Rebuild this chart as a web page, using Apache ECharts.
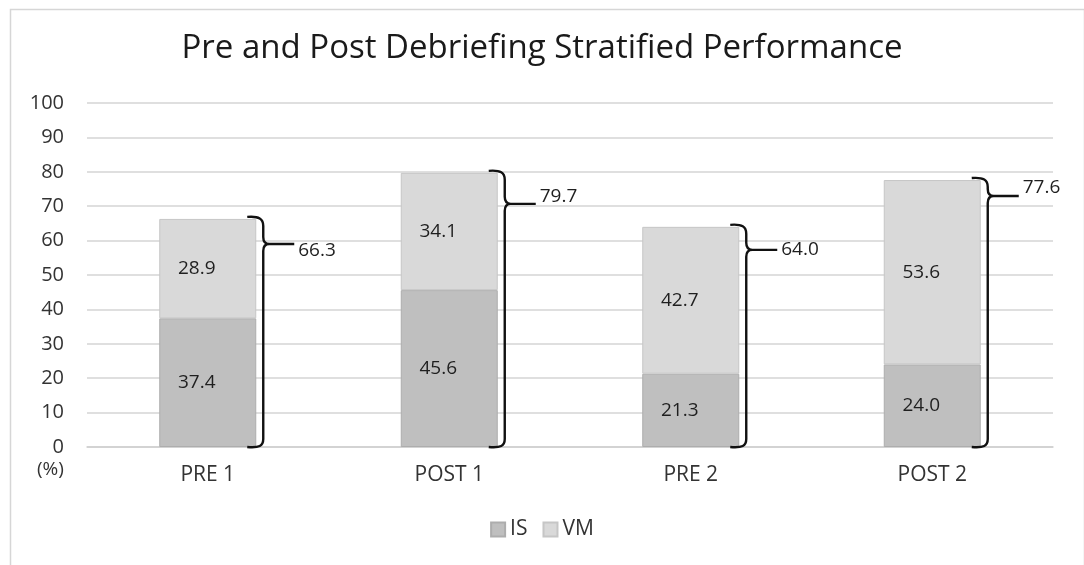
<!DOCTYPE html>
<html>
<head>
<meta charset="utf-8">
<title>Pre and Post Debriefing Stratified Performance</title>
<script src="https://cdn.jsdelivr.net/npm/echarts@6/dist/echarts.min.js"></script>
<style>
  html, body { margin: 0; padding: 0; background: #fff; }
  #chart { width: 1084px; height: 565px; }
</style>
</head>
<body>
<div id="chart"></div>
<script>
// Session labels along the x axis
const categories = ['PRE 1', 'POST 1', 'PRE 2', 'POST 2'];
// Stacked components (%)
const isValues = [37.4, 45.6, 21.3, 24.0];
const vmValues = [28.9, 34.1, 42.7, 53.6];
// Combined score shown beside each brace
const totals = [66.3, 79.7, 64.0, 77.6];
// Y axis ticks
const yTicks = [0, 10, 20, 30, 40, 50, 60, 70, 80, 90, 100];

const FONT = '"Open Sans", "Noto Sans", sans-serif';

// Brace shape tweaks per column: distance of the point below the brace top,
// and vertical shift of the total label relative to that point (px).
const braceTipDrop = [27, 33, 25, 18];
const braceLabelShift = [7, -7, 0, -8];

const BAR_WIDTH = 97;

function renderBrace(params, api) {
  const i = api.value(0);
  const total = api.value(1);
  const topPt = api.coord([i, total]);
  const botPt = api.coord([i, 0]);
  const xr = topPt[0] + BAR_WIDTH / 2;
  const yTop = topPt[1] - 2;
  const yBot = botPt[1];
  const yTip = yTop + braceTipDrop[i];
  const xv = xr + 7;
  const xt = xr + 13;
  const path =
    'M' + (xr - 9) + ',' + yTop +
    ' C' + (xr + 3) + ',' + (yTop - 1) + ' ' + xv + ',' + (yTop + 2) + ' ' + xv + ',' + (yTop + 9) +
    ' L' + xv + ',' + (yTip - 7) +
    ' C' + xv + ',' + (yTip - 2) + ' ' + (xv + 2) + ',' + yTip + ' ' + xt + ',' + yTip +
    ' C' + (xv + 2) + ',' + yTip + ' ' + xv + ',' + (yTip + 2) + ' ' + xv + ',' + (yTip + 7) +
    ' L' + xv + ',' + (yBot - 8) +
    ' C' + xv + ',' + (yBot - 1) + ' ' + (xr + 3) + ',' + (yBot + 1) + ' ' + (xr - 9) + ',' + yBot +
    ' M' + xt + ',' + yTip + ' L' + (xr + 38) + ',' + yTip;
  return {
    type: 'group',
    children: [
      {
        type: 'path',
        shape: { pathData: path },
        style: { fill: null, stroke: '#111', lineWidth: 2.4 }
      },
      {
        type: 'text',
        style: {
          x: xr + 42,
          y: yTip + braceLabelShift[i],
          text: total.toFixed(1),
          fill: '#1f1f1f',
          font: '19px ' + FONT,
          verticalAlign: 'middle',
          align: 'left'
        }
      }
    ]
  };
}

const chart = echarts.init(document.getElementById('chart'), null, { renderer: 'canvas' });

chart.setOption({
  animation: false,
  backgroundColor: '#ffffff',
  title: {
    text: 'Pre and Post Debriefing Stratified Performance',
    left: 'center',
    top: 27,
    textStyle: { fontFamily: FONT, fontSize: 33, fontWeight: 'normal', color: '#1a1a1a' }
  },
  legend: {
    bottom: 20,
    left: 'center',
    itemWidth: 14,
    itemHeight: 14,
    itemGap: 15,
    icon: 'rect',
    data: ['IS', 'VM'],
    textStyle: { fontFamily: FONT, fontSize: 21, color: '#333333' }
  },
  grid: { left: 87, right: 31, top: 103, bottom: 118 },
  xAxis: {
    type: 'category',
    data: categories,
    axisLine: { lineStyle: { color: '#d0d0d0', width: 1.5 } },
    axisTick: { show: false },
    axisLabel: { fontFamily: FONT, fontSize: 21, color: '#333333', margin: 18 }
  },
  yAxis: {
    type: 'value',
    min: yTicks[0],
    max: yTicks[yTicks.length - 1],
    interval: 10,
    axisLine: { show: false },
    axisTick: { show: false },
    axisLabel: { fontFamily: FONT, fontSize: 20, color: '#333333', margin: 23 },
    splitLine: { lineStyle: { color: '#d4d4d4', width: 1.5 } }
  },
  graphic: [
    {
      type: 'rect',
      left: 8, top: 7,
      shape: { width: 1074, height: 570 },
      style: { fill: null, stroke: '#d6d6d6', lineWidth: 1.5 },
      silent: true
    },
    {
      type: 'text',
      left: 37, top: 460,
      style: { text: '(%)', fill: '#333333', font: '19px ' + FONT }
    }
  ],
  series: [
    {
      name: 'IS',
      type: 'bar',
      stack: 'total',
      barWidth: BAR_WIDTH,
      data: isValues,
      itemStyle: { color: '#bfbfbf', borderColor: '#adadad', borderWidth: 1 },
      label: {
        show: true, position: 'inside', offset: [-11, 0],
        formatter: p => p.value.toFixed(1),
        fontFamily: FONT, fontSize: 19, color: '#1f1f1f'
      }
    },
    {
      name: 'VM',
      type: 'bar',
      stack: 'total',
      barWidth: BAR_WIDTH,
      data: vmValues,
      itemStyle: { color: '#d9d9d9', borderColor: '#c6c6c6', borderWidth: 1 },
      label: {
        show: true, position: 'inside', offset: [-11, 0],
        formatter: p => p.value.toFixed(1),
        fontFamily: FONT, fontSize: 19, color: '#1f1f1f'
      }
    },
    {
      name: 'Total',
      type: 'custom',
      renderItem: renderBrace,
      data: totals.map((t, i) => [i, t]),
      z: 5,
      silent: true
    }
  ]
});
</script>
</body>
</html>
